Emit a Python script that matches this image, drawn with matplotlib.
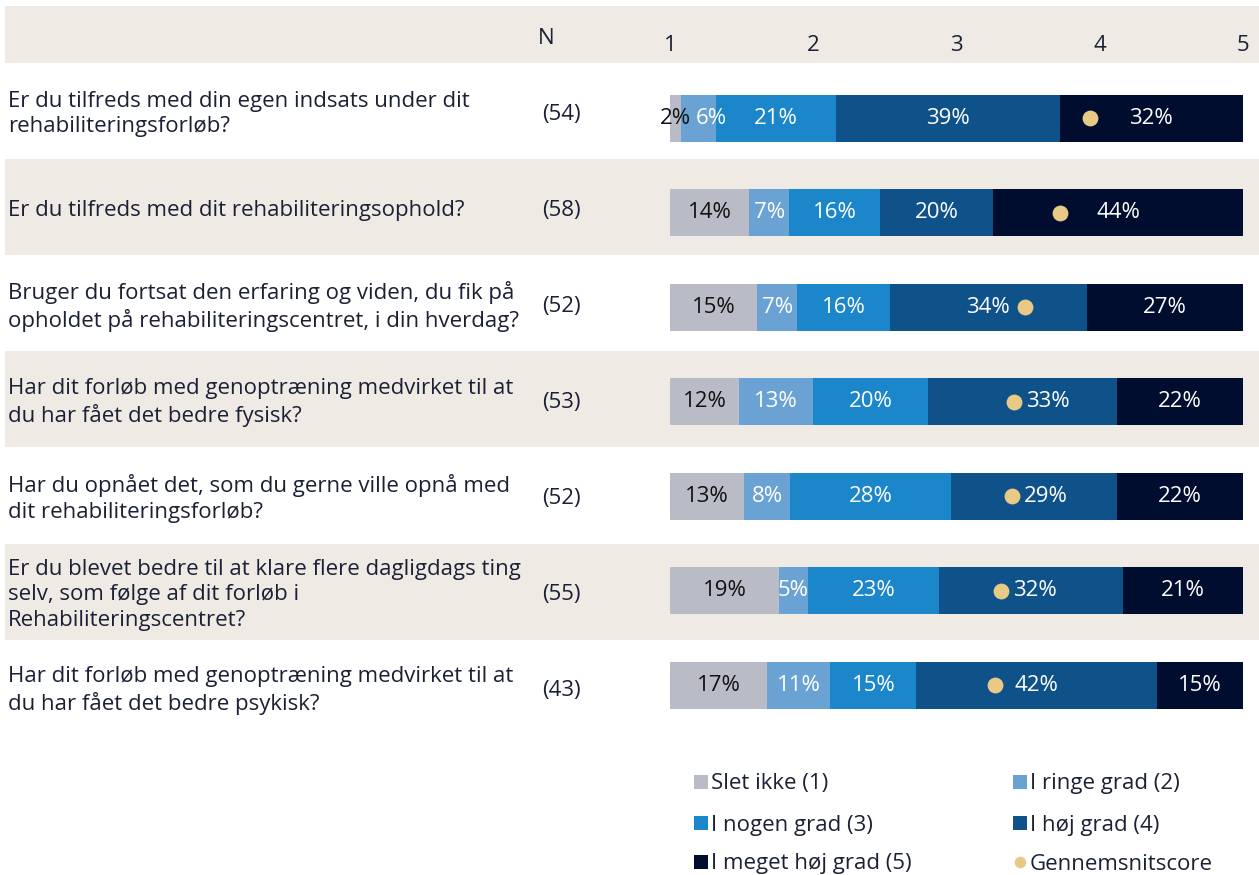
import matplotlib
matplotlib.use("Agg")
import matplotlib.pyplot as plt
from matplotlib.patches import Rectangle
import numpy as np

plt.rcParams['font.family'] = ['Open Sans', 'DejaVu Sans']

questions = [
    "Er du tilfreds med din egen indsats under dit\nrehabiliteringsforløb?",
    "Er du tilfreds med dit rehabiliteringsophold?",
    "Bruger du fortsat den erfaring og viden, du fik på\nopholdet på rehabiliteringscentret, i din hverdag?",
    "Har dit forløb med genoptræning medvirket til at\ndu har fået det bedre fysisk?",
    "Har du opnået det, som du gerne ville opnå med\ndit rehabiliteringsforløb?",
    "Er du blevet bedre til at klare flere dagligdags ting\nselv, som følge af dit forløb i\nRehabiliteringscentret?",
    "Har dit forløb med genoptræning medvirket til at\ndu har fået det bedre psykisk?",
]
n_resp = [54, 58, 52, 53, 52, 55, 43]

categories = ["Slet ikke (1)", "I ringe grad (2)", "I nogen grad (3)",
              "I høj grad (4)", "I meget høj grad (5)"]
slet_ikke = [2, 14, 15, 12, 13, 19, 17]
ringe = [6, 7, 7, 13, 8, 5, 11]
nogen = [21, 16, 16, 20, 28, 23, 15]
hoej = [39, 20, 34, 33, 29, 32, 42]
meget_hoej = [32, 44, 27, 22, 22, 21, 15]
mean_score = [3.93, 3.72, 3.48, 3.40, 3.39, 3.31, 3.27]
scale_ticks = [1, 2, 3, 4, 5]

colors = ["#B9BCC6", "#6BA2D4", "#1B86C9", "#0F528A", "#000D2E"]
label_colors = ["#111111", "white", "white", "white", "white"]
dot_color = "#E8C986"
band_color = "#EFEBE4"
text_color = "#1B2036"
fs = 16

W, H = 1259, 875
fig = plt.figure(figsize=(W / 100, H / 100), dpi=100)
n_rows = len(questions)

# background layer in pixel coordinates: bands, questions, N
bg = fig.add_axes([0, 0, 1, 1], zorder=0)
bg.set_xlim(0, W)
bg.set_ylim(H, 0)
bg.axis('off')
band_top, row_h = 63, 96.1
bg.add_patch(Rectangle((5, 6), W - 5, band_top - 6, color=band_color, lw=0))
for i in range(n_rows):
    if i % 2 == 1:
        bg.add_patch(Rectangle((5, band_top + i * row_h), W - 5, row_h,
                               color=band_color, lw=0))
    yc = band_top + (i + 0.5) * row_h + 3
    bg.text(8, yc, questions[i], ha='left', va='center', fontsize=fs,
            color=text_color, linespacing=1.28)
    bg.text(561, yc, f"({n_resp[i]})", ha='center', va='center',
            fontsize=fs, color=text_color)
bg.text(546, 38, "N", ha='center', va='center', fontsize=fs, color=text_color)

# bars
bar_top, bar_step = 70.9, 94.55
ax = fig.add_axes([670 / W, 1 - (bar_top + n_rows * bar_step) / H,
                   (1243 - 670) / W, n_rows * bar_step / H], zorder=1)
ax.patch.set_visible(False)
ax.set_xlim(1, 5)
ax.set_ylim(n_rows - 0.5, -0.5)
for s in ax.spines.values():
    s.set_visible(False)
ax.set_yticks([])
ax.xaxis.tick_top()
ax.set_xticks(scale_ticks)
ax.set_xticklabels([str(t) for t in scale_ticks])
ax.tick_params(axis='x', length=0, pad=11, labelsize=fs, labelcolor=text_color)

data = np.array([slet_ikke, ringe, nogen, hoej, meget_hoej], dtype=float).T
frac = data / data.sum(axis=1, keepdims=True)
y = np.arange(n_rows)
left = np.ones(n_rows)
labels = [[] for _ in range(n_rows)]
for k in range(5):
    widths = frac[:, k] * 4
    ax.barh(y, widths, left=left, height=0.497, color=colors[k], zorder=2)
    for i in range(n_rows):
        cx = left[i] + widths[i] / 2
        t = ax.text(cx, y[i], f"{int(data[i, k])}%", ha='center', va='center',
                    fontsize=fs, color=label_colors[k], zorder=4)
        labels[i].append(t)
    left += widths

ax.scatter(mean_score, y, s=130, color=dot_color, zorder=5, linewidths=0)

# keep labels clear of the mean dot and of each other
fig.canvas.draw()
r = fig.canvas.get_renderer()
px_to_x = 4 / ax.get_window_extent().width
for i in range(n_rows):
    dot_px = ax.transData.transform((mean_score[i], y[i]))[0]
    prev_right = None
    for t in labels[i]:
        bb = t.get_window_extent(r)
        target = bb.x0
        if bb.x0 - 10 < dot_px < (bb.x0 + bb.x1) / 2:
            target = max(target, dot_px + 12)
        if prev_right is not None:
            target = max(target, prev_right + 4)
        if target > bb.x0:
            t.set_x(t.get_position()[0] + (target - bb.x0) * px_to_x)
            bb = t.get_window_extent(r)
        prev_right = bb.x1

# legend
leg_items = [(categories[0], colors[0], 's'), (categories[1], colors[1], 's'),
             (categories[2], colors[2], 's'), (categories[3], colors[3], 's'),
             (categories[4], colors[4], 's'), ("Gennemsnitscore", dot_color, 'o')]
col_x = [701, 1020]
row_y = [782, 823, 862]
for j, (lab, c, m) in enumerate(leg_items):
    lx = col_x[j % 2]
    ly = row_y[j // 2]
    bg.scatter([lx], [ly], marker=m, s=100 if m == 's' else 70, color=c, linewidths=0)
    bg.text(lx + 10, ly + 2, lab, ha='left', va='center', fontsize=fs, color=text_color)

fig.savefig("out.png", dpi=100, facecolor="white")
